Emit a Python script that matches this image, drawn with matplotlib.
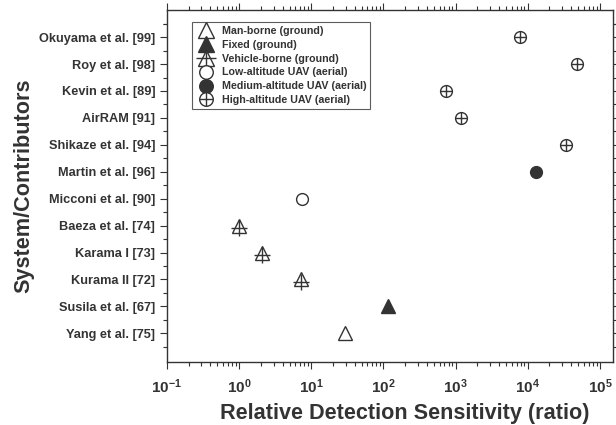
import matplotlib
matplotlib.use("Agg")
import matplotlib.pyplot as plt
from matplotlib.legend_handler import HandlerTuple
from matplotlib.ticker import LogLocator, FixedLocator, NullFormatter

plt.rcParams['font.family'] = ['Liberation Sans', 'DejaVu Sans']

systems = ["Yang et al. [75]", "Susila et al. [67]", "Kurama II [72]", "Karama I [73]",
           "Baeza et al. [74]", "Micconi et al. [90]", "Martin et al. [96]",
           "Shikaze et al. [94]", "AirRAM [91]", "Kevin et al. [89]",
           "Roy et al. [98]", "Okuyama et al. [99]"]
sensitivity = [29, 117, 7.2, 2.1, 1.0, 7.5, 13000, 34000, 1180, 740, 48000, 7900]
platform = ["man", "fixed", "vehicle", "vehicle", "vehicle", "low", "medium",
            "high", "high", "high", "high", "high"]
legend_labels = {"man": "Man-borne (ground)", "fixed": "Fixed (ground)",
                 "vehicle": "Vehicle-borne (ground)", "low": "Low-altitude UAV (aerial)",
                 "medium": "Medium-altitude UAV (aerial)", "high": "High-altitude UAV (aerial)"}
order = ["man", "fixed", "vehicle", "low", "medium", "high"]

C = "#333333"
fig = plt.figure(figsize=(6.16, 4.25), dpi=100)
ax = fig.add_axes([0.271, 0.148, 0.724, 0.828])

handles = {}
for key in order:
    xs = [s for s, p in zip(sensitivity, platform) if p == key]
    ys = [i for i, p in enumerate(platform) if p == key]
    if key == "man":
        h = ax.plot(xs, ys, ls='none', marker='^', ms=10, mfc='white', mec=C, mew=1)[0]
    elif key == "fixed":
        h = ax.plot(xs, ys, ls='none', marker='^', ms=10, mfc=C, mec=C, mew=1)[0]
    elif key == "vehicle":
        h1 = ax.plot(xs, ys, ls='none', marker='^', ms=10, mfc='white', mec=C, mew=1)[0]
        h2 = ax.plot(xs, [y - 0.08 for y in ys], ls='none', marker='+', ms=12, mec=C, mew=1)[0]
        h = (h1, h2)
    elif key == "low":
        h = ax.plot(xs, ys, ls='none', marker='o', ms=8.5, mfc='white', mec=C, mew=1)[0]
    elif key == "medium":
        h = ax.plot(xs, ys, ls='none', marker='o', ms=8.5, mfc=C, mec=C, mew=1)[0]
    else:
        h1 = ax.plot(xs, ys, ls='none', marker='o', ms=8.5, mfc='white', mec=C, mew=1)[0]
        h2 = ax.plot(xs, ys, ls='none', marker='+', ms=8.5, mec=C, mew=1)[0]
        h = (h1, h2)
    handles[key] = h

ax.set_xscale('log')
ax.set_xlim(0.1, 10 ** 5.18)
ax.set_ylim(-1.07, 12.0)
ax.set_yticks(range(len(systems)))
ax.set_yticklabels(systems)
ax.yaxis.set_minor_locator(FixedLocator([i - 0.5 for i in range(len(systems) + 1)] + [11.5]))
ax.xaxis.set_major_locator(LogLocator(base=10, numticks=20))
ax.xaxis.set_minor_locator(LogLocator(base=10, subs=range(2, 10), numticks=100))
ax.xaxis.set_minor_formatter(NullFormatter())

for lab in ax.get_yticklabels() + ax.get_xticklabels():
    lab.set_fontweight('bold')
    lab.set_color(C)
ax.tick_params(axis='y', labelsize=9.2, length=5, width=0.8, colors=C, direction='out',
               right=True, which='major')
ax.tick_params(axis='y', which='minor', length=3, width=0.8, right=True, colors=C)
ax.tick_params(axis='x', labelsize=11, length=5, width=0.8, colors=C, top=True, which='major', pad=6)
ax.tick_params(axis='x', which='minor', length=3, width=0.8, top=True, colors=C)
for s in ax.spines.values():
    s.set_color(C)
    s.set_linewidth(1)

ax.set_xlabel("Relative Detection Sensitivity (ratio)", fontsize=15.6, fontweight='bold', color=C, labelpad=5)
ax.xaxis.set_label_coords(0.534, -0.115)
ax.set_ylabel("System/Contributors", fontsize=15.6, fontweight='bold', color=C, labelpad=3)

leg = ax.legend([handles[k] for k in order], [legend_labels[k] for k in order],
                handler_map={tuple: HandlerTuple(ndivide=1)},
                loc='upper left', bbox_to_anchor=(0.056, 0.966), borderaxespad=0,
                fontsize=7.7, markerscale=1.15,
                frameon=True, fancybox=False, edgecolor=C, borderpad=0.35,
                handletextpad=0.53, labelspacing=0.36, handlelength=1.93)
leg.get_frame().set_linewidth(0.8)
for t in leg.get_texts():
    t.set_fontweight('bold')
    t.set_color(C)

fig.savefig("out.png", dpi=100)
